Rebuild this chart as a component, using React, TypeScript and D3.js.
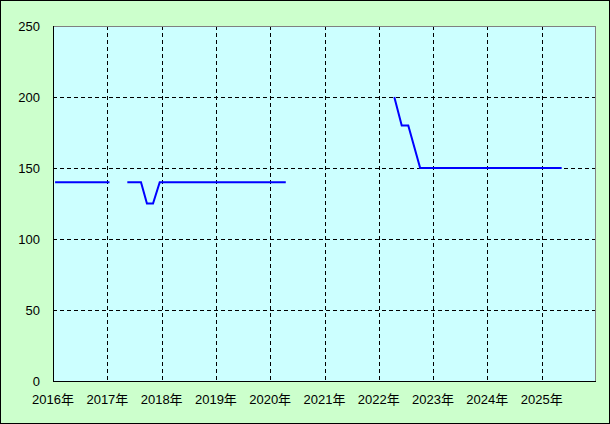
import { useEffect } from 'react';
import * as d3 from 'd3';

const years = [2016, 2017, 2018, 2019, 2020, 2021, 2022, 2023, 2024, 2025, 2026];
const yTicks = [0, 50, 100, 150, 200, 250];

const series1Dates = ['2016-01-15', '2017-01-15'];
const series1Values = [140, 140];

const series2Dates = ['2017-05-15', '2017-08-15', '2017-09-24', '2017-11-04', '2017-12-19', '2020-04-15'];
const series2Values = [140, 140, 125, 125, 140, 140];

const series3Dates = ['2022-04-15', '2022-06-04', '2022-07-18', '2022-10-06', '2025-05-15'];
const series3Values = [200, 180, 180, 150, 150];

const W = 610;
const H = 424;
const plot = { left: 53, right: 596, top: 26, bottom: 381 };
const font = '"Liberation Sans", "Noto Sans CJK JP", sans-serif';

export default function App() {
  useEffect(() => {
    document.body.style.margin = '0';
  }, []);

  const x = d3
    .scaleTime()
    .domain([new Date(2016, 0, 1), new Date(2026, 0, 1)])
    .range([plot.left, plot.right]);
  const y = d3.scaleLinear().domain([0, 250]).range([plot.bottom, plot.top]);

  const line = d3
    .line<[Date, number]>()
    .x((d) => x(d[0]))
    .y((d) => y(d[1]));

  const toPts = (dates: string[], vals: number[]) =>
    dates.map((s, i) => {
      const [yy, mm, dd] = s.split('-').map(Number);
      return [new Date(yy, mm - 1, dd), vals[i]] as [Date, number];
    });

  const series = [
    toPts(series1Dates, series1Values),
    toPts(series2Dates, series2Values),
    toPts(series3Dates, series3Values),
  ];

  return (
    <svg width={W} height={H} style={{ display: 'block' }} fontFamily={font}>
      <rect x={0.5} y={0.5} width={W - 1} height={H - 1} fill="#ccffcc" stroke="#000" />
      <rect
        x={plot.left}
        y={plot.top}
        width={plot.right - plot.left}
        height={plot.bottom - plot.top}
        fill="#ccffff"
      />
      {years.slice(1, -1).map((yr) => {
        const xx = Math.round(x(new Date(yr, 0, 1))) + 0.5;
        return (
          <line key={yr} x1={xx} x2={xx} y1={plot.top} y2={plot.bottom} stroke="#000" strokeDasharray="4,3" />
        );
      })}
      {yTicks.slice(1, -1).map((v) => {
        const yy = Math.round(y(v)) + 0.5;
        return (
          <line key={v} x1={plot.left} x2={plot.right} y1={yy} y2={yy} stroke="#000" strokeDasharray="4,3" />
        );
      })}
      <line x1={plot.left} x2={plot.right} y1={plot.top + 0.5} y2={plot.top + 0.5} stroke="#808080" />
      <line x1={plot.right - 0.5} x2={plot.right - 0.5} y1={plot.top} y2={plot.bottom} stroke="#808080" />
      <line x1={plot.left + 0.5} x2={plot.left + 0.5} y1={plot.top} y2={plot.bottom + 1} stroke="#000" />
      <line x1={plot.left} x2={plot.right} y1={plot.bottom + 0.5} y2={plot.bottom + 0.5} stroke="#000" />
      {series.map((pts, i) => (
        <path key={i} d={line(pts) ?? ''} fill="none" stroke="#0000ff" strokeWidth={2} />
      ))}
      {yTicks.map((v) => (
        <text key={v} x={40} y={y(v)} dy="0.35em" textAnchor="end" fontSize={13} fill="#000">
          {v}
        </text>
      ))}
      {years.slice(0, -1).map((yr) => (
        <text key={yr} x={x(new Date(yr, 0, 1))} y={404} textAnchor="middle" fontSize={13} fill="#000">
          {yr}年
        </text>
      ))}
    </svg>
  );
}
